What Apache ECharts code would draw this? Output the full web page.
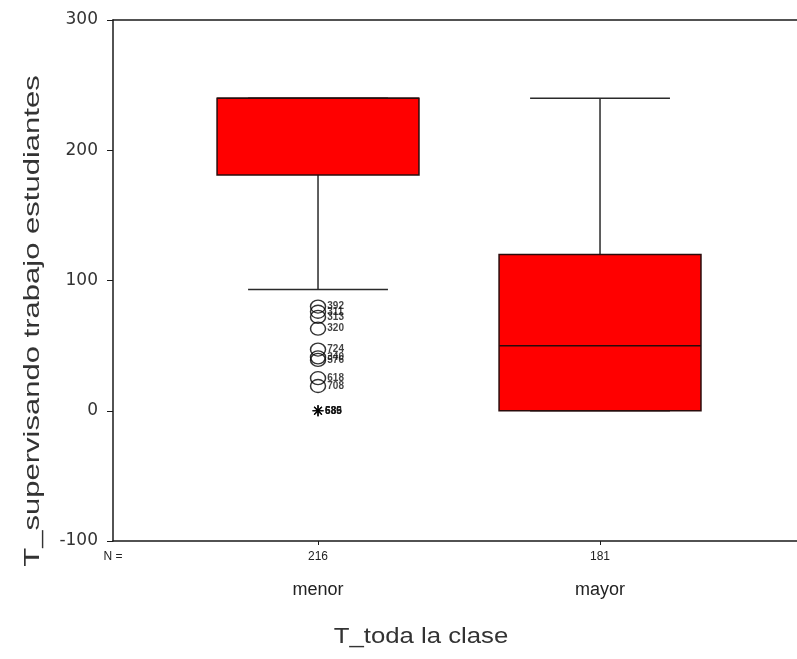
<!DOCTYPE html>
<html>
<head>
<meta charset="utf-8">
<script src="https://cdn.jsdelivr.net/npm/echarts@6/dist/echarts.min.js"></script>
<style>
  html, body { margin: 0; padding: 0; background: #fff; }
  #chart { width: 797px; height: 659px; }
</style>
</head>
<body>
<div id="chart"></div>
<script>
// Groups along the horizontal axis and their case counts
const categories = ['menor', 'mayor'];
const counts = [216, 181];

// Box statistics per group: [lower whisker, Q1, median, Q3, upper whisker]
const boxStats = [
  [93, 181, 240, 240, 240],
  [0, 0, 50, 120, 240]
];

// Outliers (circles) and extremes (asterisks) of the "menor" group, with case numbers
const outlierValues = [80, 76, 72, 63, 47, 41, 39, 25, 19];
const outlierCases = ['392', '311', '313', '320', '724', '340', '576', '618', '708'];
const extremeValues = [0, 0, 0];
const extremeCases = ['686', '589', '635'];

// Vertical axis range and step
const yMin = -100, yMax = 300, yStep = 100;

const xTitle = 'T_toda la clase';
const yTitle = 'T_supervisando trabajo estudiantes';

// Horizontal extent: group 0 sits at 0, group 1 at 1; the frame runs off the right edge
const xMin = -0.727, xMax = 1.6985;
const BOX_FRAC = 0.716, CAP_FRAC = 0.496;
const FONT = 'Liberation Sans, Arial, sans-serif';

const chart = echarts.init(document.getElementById('chart'), null, { renderer: 'canvas' });

function renderBox(params, api) {
  const x = api.value(0);
  const c = v => api.coord([x, v]);
  const pLo = c(api.value(1)), pQ1 = c(api.value(2)), pMed = c(api.value(3));
  const pQ3 = c(api.value(4)), pHi = c(api.value(5));
  const unit = api.size([1, 0])[0];
  const half = unit * BOX_FRAC / 2, capHalf = unit * CAP_FRAC / 2;
  const cx = pQ1[0];
  const lineStyle = { stroke: '#2a2a2a', lineWidth: 1.5 };
  return {
    type: 'group',
    children: [
      { type: 'line', shape: { x1: cx, y1: pQ3[1], x2: cx, y2: pHi[1] }, style: lineStyle },
      { type: 'line', shape: { x1: cx, y1: pQ1[1], x2: cx, y2: pLo[1] }, style: lineStyle },
      { type: 'line', shape: { x1: cx - capHalf, y1: pHi[1], x2: cx + capHalf, y2: pHi[1] }, style: lineStyle },
      { type: 'line', shape: { x1: cx - capHalf, y1: pLo[1], x2: cx + capHalf, y2: pLo[1] }, style: lineStyle },
      { type: 'rect', shape: { x: cx - half, y: pQ3[1], width: half * 2, height: pQ1[1] - pQ3[1] },
        style: { fill: '#ff0000', stroke: '#2a0c0c', lineWidth: 1.5 } },
      { type: 'line', shape: { x1: cx - half, y1: pMed[1], x2: cx + half, y2: pMed[1] },
        style: { stroke: '#2a0c0c', lineWidth: 1.5 } }
    ]
  };
}

const axisLineStyle = { color: '#1a1a1a', width: 1.5 };

const option = {
  backgroundColor: '#ffffff',
  animation: false,
  grid: { left: 113, top: 20, right: 0, height: 521 },
  xAxis: [
    {
      type: 'value', min: xMin, max: xMax, position: 'bottom',
      splitLine: { show: false },
      axisLine: { show: true, onZero: false, lineStyle: axisLineStyle },
      axisTick: { show: true, length: 4, customValues: [0, 1], lineStyle: { color: '#1a1a1a' } },
      axisLabel: {
        customValues: [xMin, 0, 1],
        formatter: v => (v < 0 ? 'N =' : String(counts[Math.round(v)])),
        fontFamily: FONT, fontSize: 12, color: '#222', margin: 10
      }
    },
    {
      type: 'value', min: xMin, max: xMax, position: 'bottom', offset: 36,
      splitLine: { show: false },
      axisLine: { show: false, onZero: false }, axisTick: { show: false },
      axisLabel: {
        customValues: [0, 1],
        formatter: v => categories[Math.round(v)],
        fontFamily: FONT, fontSize: 18, color: '#222', margin: 4
      }
    },
    {
      type: 'value', min: xMin, max: xMax, position: 'top',
      splitLine: { show: false },
      axisLine: { show: true, onZero: false, lineStyle: axisLineStyle },
      axisTick: { show: false }, axisLabel: { show: false }
    }
  ],
  yAxis: {
    type: 'value', min: yMin, max: yMax, interval: yStep,
    splitLine: { show: false },
    axisLine: { show: true, onZero: false, lineStyle: axisLineStyle },
    axisTick: { show: true, length: 6, lineStyle: { color: '#1a1a1a' } },
    axisLabel: { fontFamily: 'DejaVu Sans, sans-serif', fontSize: 17, color: '#333', margin: 15 }
  },
  graphic: [
    {
      type: 'text', x: 421, y: 637, scaleX: 1.17,
      style: { text: xTitle, textAlign: 'center', textVerticalAlign: 'middle',
               fontFamily: FONT, fontSize: 22, fill: '#333' }
    },
    {
      type: 'text', x: 33, y: 321, rotation: Math.PI / 2, scaleX: 1.41,
      style: { text: yTitle, textAlign: 'center', textVerticalAlign: 'middle',
               fontFamily: FONT, fontSize: 22, fill: '#333' }
    }
  ],
  series: [
    {
      type: 'custom',
      xAxisIndex: 0,
      renderItem: renderBox,
      encode: { x: 0, y: [1, 2, 3, 4, 5] },
      data: boxStats.map((s, i) => [i].concat(s)),
      z: 2
    },
    {
      type: 'scatter',
      xAxisIndex: 0,
      symbol: 'circle',
      symbolSize: [15, 13],
      itemStyle: { color: 'rgba(0,0,0,0)', borderColor: '#000', borderWidth: 1.4 },
      label: {
        show: true, position: 'right', distance: 1,
        formatter: p => outlierCases[p.dataIndex],
        fontFamily: FONT, fontSize: 10, fontWeight: 'bold', color: '#111'
      },
      data: outlierValues.map(v => [0, v]),
      z: 3
    },
    {
      type: 'scatter',
      xAxisIndex: 0,
      symbol: 'path://M0,5L10,5M5,0L5,10M1.5,1.5L8.5,8.5M8.5,1.5L1.5,8.5',
      symbolSize: 11,
      itemStyle: { color: 'rgba(0,0,0,0)', borderColor: '#000', borderWidth: 1.2 },
      label: {
        show: true, position: 'right', distance: 1,
        formatter: p => extremeCases[p.dataIndex],
        fontFamily: FONT, fontSize: 10, fontWeight: 'bold', color: '#111'
      },
      data: extremeValues.map(v => [0, v]),
      z: 3
    }
  ]
};

chart.setOption(option);
</script>
</body>
</html>
